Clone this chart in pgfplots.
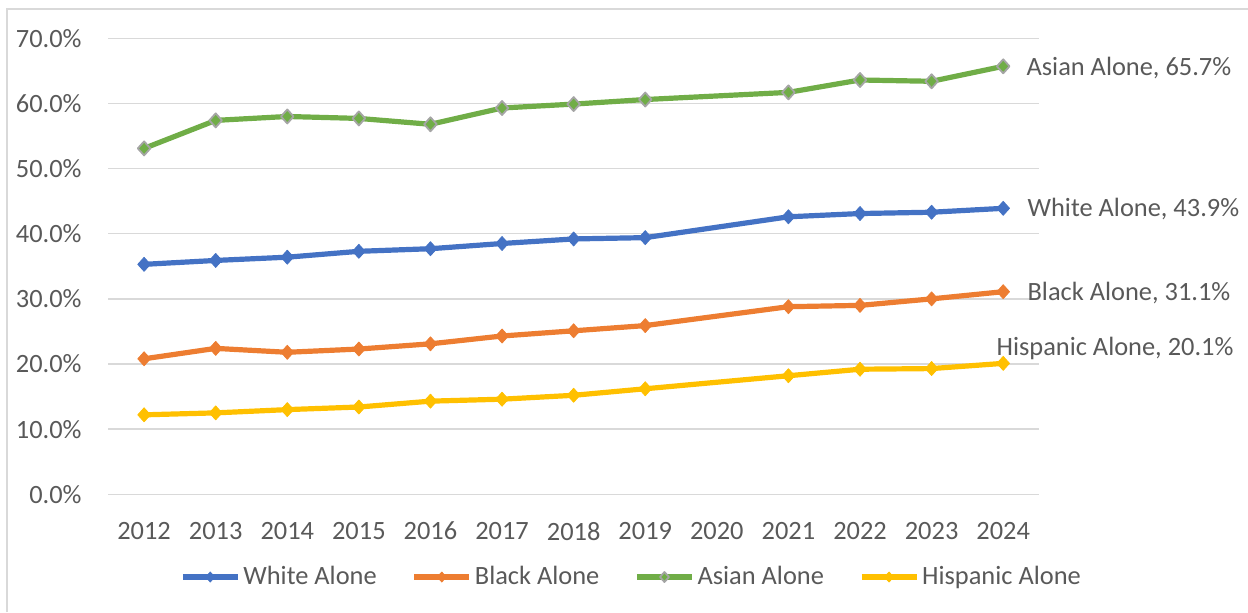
\documentclass[border=0pt]{standalone}
\usepackage{pgfplots}
\pgfplotsset{compat=1.18}
\usepackage{fontspec}
\setmainfont{Carlito}

\definecolor{whiteC}{HTML}{4472C4}
\definecolor{blackC}{HTML}{ED7D31}
\definecolor{asianC}{HTML}{70AD47}
\definecolor{hispC}{HTML}{FFC000}
\definecolor{markgray}{HTML}{A5A5A5}
\definecolor{gridgray}{HTML}{D9D9D9}
\definecolor{framegray}{HTML}{D9D9D9}
\definecolor{textgray}{HTML}{595959}

\newcommand{\chartfont}{\fontsize{13.2}{15.8}\selectfont}

\begin{document}
\chartfont
\begin{tikzpicture}
% page area and chart frame
\path[use as bounding box] (0,0) rectangle (624pt,306pt);
\draw[framegray, line width=0.75pt] (3.6pt,0) -- (3.6pt,301.4pt) -- (624pt,301.4pt);

\begin{axis}[
  at={(54.15pt,58.85pt)}, anchor=south west,
  scale only axis, width=465.35pt, height=228pt,
  clip=false,
  xmin=2011.5, xmax=2024.5, ymin=0, ymax=70,
  xtick={2012,2013,2014,2015,2016,2017,2018,2019,2020,2021,2022,2023,2024},
  xticklabels={2012,2013,2014,2015,2016,2017,2018,2019,2020,2021,2022,2023,2024},
  ytick={0,10,20,30,40,50,60,70},
  yticklabels={0.0\%,10.0\%,20.0\%,30.0\%,40.0\%,50.0\%,60.0\%,70.0\%},
  axis line style={draw=none},
  major tick style={draw=none},
  ymajorgrids,
  grid style={gridgray, line width=0.75pt},
  tick label style={font=\chartfont, text=textgray},
  yticklabel style={anchor=east, inner sep=0pt, xshift=-13.15pt},
  xticklabel style={anchor=north, inner sep=0pt, yshift=-13.7pt},
  legend columns=4,
  legend cell align=left,
  legend style={at={(0.5627,-0.1814)}, anchor=center, draw=none, fill=none,
    font=\chartfont, text=textgray, inner sep=0pt,
    nodes={inner sep=1.5pt},
    /tikz/every even column/.append style={column sep=16pt}},
  legend image code/.code={%
    \draw[mark repeat=2, mark phase=2, #1, mark size=2.5pt]
      plot coordinates {(0pt,0pt) (13.75pt,0pt) (27.5pt,0pt)};},
  every axis plot/.append style={line width=2.6pt, line join=round},
]

\addplot[whiteC, mark=diamond*, mark size=3.5pt,
  mark options={solid, xscale=1.2, line width=0.4pt, fill=whiteC, draw=whiteC}]
  coordinates {(2012,35.3) (2013,35.9) (2014,36.4) (2015,37.3) (2016,37.7) (2017,38.5)
               (2018,39.2) (2019,39.4) (2021,42.6) (2022,43.1) (2023,43.3) (2024,43.9)};
\addlegendentry{White Alone}

\addplot[blackC, mark=diamond*, mark size=3.5pt,
  mark options={solid, xscale=1.2, line width=0.4pt, fill=blackC, draw=blackC}]
  coordinates {(2012,20.8) (2013,22.4) (2014,21.8) (2015,22.3) (2016,23.1) (2017,24.3)
               (2018,25.1) (2019,25.9) (2021,28.8) (2022,29.0) (2023,30.0) (2024,31.1)};
\addlegendentry{Black Alone}

\addplot[asianC, mark=diamond*, mark size=3.5pt,
  mark options={solid, xscale=1.2, line width=0.9pt, fill=asianC, draw=markgray}]
  coordinates {(2012,53.1) (2013,57.4) (2014,58.0) (2015,57.7) (2016,56.8) (2017,59.3)
               (2018,59.9) (2019,60.6) (2021,61.7) (2022,63.6) (2023,63.4) (2024,65.7)};
\addlegendentry{Asian Alone}

\addplot[hispC, mark=diamond*, mark size=3.5pt,
  mark options={solid, xscale=1.2, line width=0.4pt, fill=hispC, draw=hispC}]
  coordinates {(2012,12.2) (2013,12.5) (2014,13.0) (2015,13.4) (2016,14.3) (2017,14.6)
               (2018,15.2) (2019,16.2) (2021,18.2) (2022,19.2) (2023,19.3) (2024,20.1)};
\addlegendentry{Hispanic Alone}

% end-of-series labels
\node[anchor=west, inner sep=0pt, xshift=11.5pt, yshift=-1pt, text=textgray] at (axis cs:2024,65.7) {Asian Alone, 65.7\%};
\node[anchor=west, inner sep=0pt, xshift=12pt, yshift=-0.5pt, text=textgray] at (axis cs:2024,43.9) {White Alone, 43.9\%};
\node[anchor=west, inner sep=0pt, xshift=12pt, yshift=-0.8pt, text=textgray] at (axis cs:2024,31.1) {Black Alone, 31.1\%};
\node[anchor=west, inner sep=0pt, xshift=-3.5pt, yshift=7.6pt, text=textgray] at (axis cs:2024,20.1) {Hispanic Alone, 20.1\%};
\end{axis}
\end{tikzpicture}
\end{document}
